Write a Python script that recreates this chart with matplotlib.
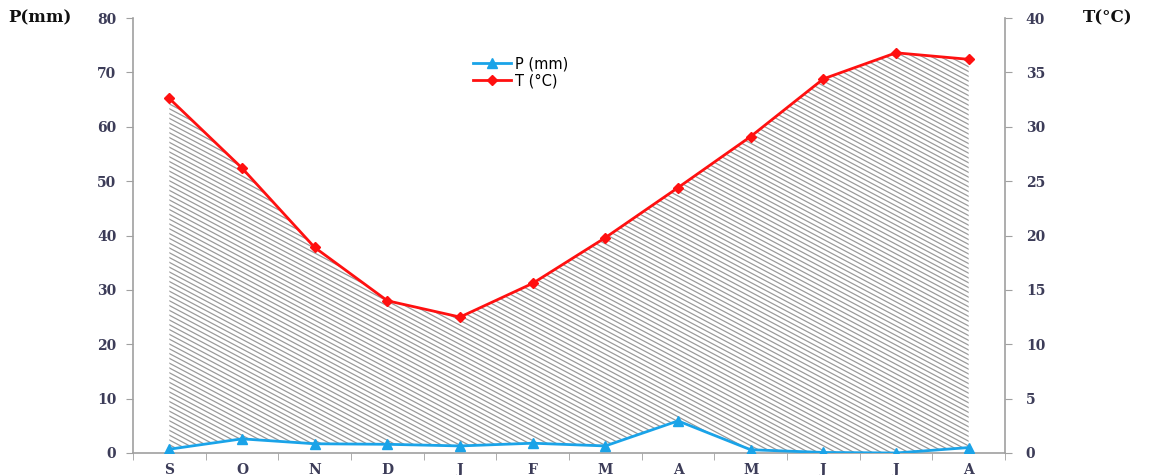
import matplotlib
matplotlib.use("Agg")
import matplotlib.pyplot as plt
from matplotlib.collections import LineCollection
from matplotlib.transforms import IdentityTransform
import numpy as np

months = ["S", "O", "N", "D", "J", "F", "M", "A", "M", "J", "J", "A"]
precip = [0.7, 2.6, 1.7, 1.6, 1.3, 1.8, 1.3, 5.9, 0.6, 0.1, 0.0, 1.0]
temp = [32.6, 26.2, 18.9, 14.0, 12.5, 15.6, 19.8, 24.4, 29.1, 34.4, 36.8, 36.2]
p_ticks = [0, 10, 20, 30, 40, 50, 60, 70, 80]
t_ticks = [0, 5, 10, 15, 20, 25, 30, 35, 40]

W, H, DPI = 1157, 475, 100
fig = plt.figure(figsize=(W / DPI, H / DPI), dpi=DPI)
ax = fig.add_axes([133/W, 1 - 453/H, (1005-133)/W, (453-18)/H])
ax2 = ax.twinx()

x = np.arange(len(months))
P = np.array(precip)
T = np.array(temp)

ax.set_xlim(-0.5, len(months) - 0.5)
ax.set_ylim(0, 80)
ax2.set_ylim(0, 40)

# region between precipitation and (scaled) temperature: hatched
coll = ax.fill_between(x, P, 2 * T, facecolor='none', edgecolor='none', linewidth=0, zorder=1)

# custom shallow diagonal hatch lines (pixel space), clipped to the region
slope = 0.53
spacing = 4.8
segs = []
for c in np.arange(-slope * W, H + 10, spacing):
    segs.append([(0, c + slope * W), (W, c)])
hatch = LineCollection(segs, colors='#9a9a9a', linewidths=0.9, transform=IdentityTransform(), zorder=1)
ax.add_collection(hatch, autolim=False)
hatch.set_clip_path(coll.get_paths()[0], ax.transData)

lp, = ax.plot(x, P, color='#1aa3e8', lw=2, marker='^', ms=7, label='P (mm)', zorder=3)
lt, = ax2.plot(x, T, color='#ff1010', lw=2, marker='D', ms=5, label='T (°C)', zorder=3)

ax.set_yticks(p_ticks)
ax2.set_yticks(t_ticks)

tick_color = '#3c3c58'
font = dict(family='DejaVu Serif', weight='bold', size=10)
ax.set_xticks(x)
ax.set_xticklabels(months, fontdict=font, color=tick_color)
ax.set_xticks(np.arange(-0.5, len(months)), minor=True)
ax.tick_params(axis='x', which='major', length=0, pad=7)
ax.tick_params(axis='x', which='minor', length=5, color='#a0a0a0')
ax.set_yticklabels([str(v) for v in p_ticks], fontdict=font, color=tick_color)
ax2.set_yticklabels([str(v) for v in t_ticks], fontdict=font, color=tick_color)
ax.tick_params(axis='y', length=5, color='#a0a0a0', pad=7)
ax2.tick_params(axis='y', length=5, color='#a0a0a0', pad=10)

for a in (ax, ax2):
    a.spines['top'].set_visible(False)
    for s in ('left', 'right', 'bottom'):
        a.spines[s].set_color('#a0a0a0')
        a.spines[s].set_linewidth(1.2)
ax.spines['right'].set_visible(False)
ax2.spines['left'].set_visible(False)
ax2.spines['bottom'].set_visible(False)

tfont = dict(family='DejaVu Serif', weight='bold', size=12)
fig.text(8/W, 1 - 18/H, 'P(mm)', fontdict=tfont, va='center', ha='left', color='#111111')
fig.text(1083/W, 1 - 18/H, 'T(°C)', fontdict=tfont, va='center', ha='left', color='#111111')

leg = ax.legend([lp, lt], ['P (mm)', 'T (°C)'], loc='upper left', bbox_to_anchor=(460/W, 1 - 43/H),
                bbox_transform=fig.transFigure, frameon=False,
                prop=dict(family='DejaVu Sans', size=10.5), handlelength=2.6,
                labelspacing=0.15, handletextpad=0.3)

fig.savefig('out.png', dpi=DPI)
